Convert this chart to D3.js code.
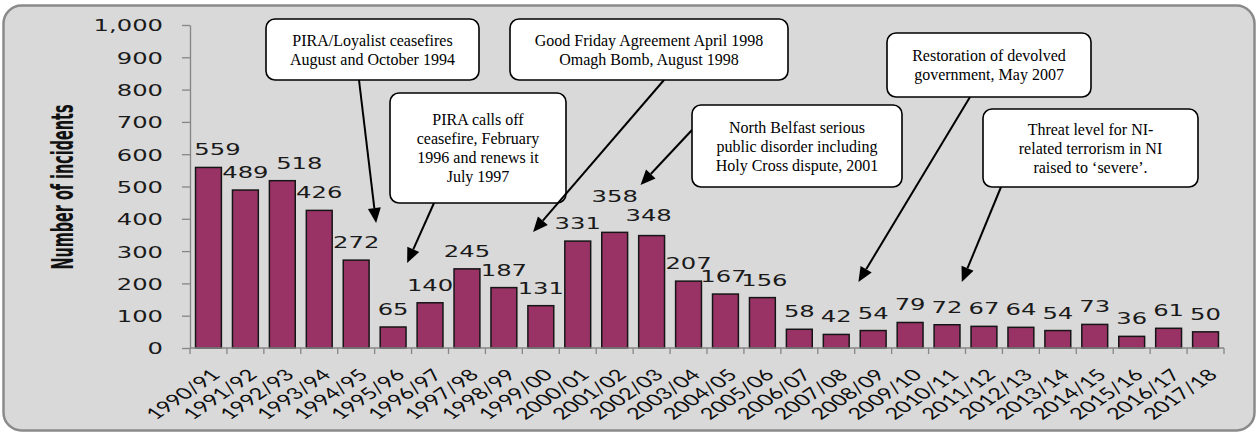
<!DOCTYPE html>
<html>
<head>
<meta charset="utf-8">
<script src="https://cdn.jsdelivr.net/npm/d3@7"></script>
<style>
  body { margin: 0; background: #fff; }
  svg { display: block; }
</style>
</head>
<body>
<svg id="chart"></svg>
<script>
// values
const categories = ["1990/91", "1991/92", "1992/93", "1993/94", "1994/95", "1995/96", "1996/97",
  "1997/98", "1998/99", "1999/00", "2000/01", "2001/02", "2002/03", "2003/04", "2004/05",
  "2005/06", "2006/07", "2007/08", "2008/09", "2009/10", "2010/11", "2011/12", "2012/13",
  "2013/14", "2014/15", "2015/16", "2016/17", "2017/18"];
const incidents = [559, 489, 518, 426, 272, 65, 140, 245, 187, 131, 331, 358, 348, 207, 167,
  156, 58, 42, 54, 79, 72, 67, 64, 54, 73, 36, 61, 50];
const yTicks = [0, 100, 200, 300, 400, 500, 600, 700, 800, 900, 1000];
const yTitle = "Number of incidents";

// callout texts, and where each arrow points (category units from axis start, value)
const noteTexts = [
  ["PIRA/Loyalist ceasefires", "August and October 1994"],
  ["PIRA calls off", "ceasefire, February", "1996 and renews it", "July 1997"],
  ["Good Friday Agreement April 1998", "Omagh Bomb, August 1998"],
  ["North Belfast serious", "public disorder including", "Holy Cross dispute, 2001"],
  ["Restoration of devolved", "government, May 2007"],
  ["Threat level for NI-", "related terrorism in NI", "raised to \u2018severe\u2019."]
];
const noteTargets = [[5.04, 387], [5.88, 263], [9.29, 359], [12.2, 505], [18.1, 204], [20.9, 204]];

const width = 1259, height = 433;
const stretch = 1.47; // the source image is stretched sideways

const svg = d3.select("#chart").attr("width", width).attr("height", height);

// panel
svg.append("rect")
  .attr("x", 3.5).attr("y", 5.5)
  .attr("width", 1251).attr("height", 425)
  .attr("rx", 18).attr("ry", 18)
  .attr("fill", "#d9d9d9")
  .attr("stroke", "#8a8a8a")
  .attr("stroke-width", 2.5);

const x = d3.scaleBand()
  .domain(categories)
  .range([190, 1224])
  .paddingInner(0.3)
  .paddingOuter(0.15);
const y = d3.scaleLinear().domain([0, 1000]).range([348, 25]);
const step = x.step();
const xAt = u => 190 + u * step;

// y axis
const yAxis = d3.axisLeft(y)
  .tickValues(yTicks)
  .tickFormat(d3.format(","))
  .tickSize(8)
  .tickSizeOuter(0);
const gy = svg.append("g").attr("transform", "translate(190,0)").call(yAxis);
gy.select(".domain").attr("stroke", "#868686").attr("stroke-width", 1.3);
gy.selectAll(".tick line").attr("stroke", "#868686").attr("stroke-width", 1.3);
gy.selectAll(".tick text")
  .attr("x", -27 / stretch)
  .attr("dy", "0.36em")
  .attr("transform", `scale(${stretch},1)`)
  .attr("font-family", "'DejaVu Sans', Verdana, sans-serif")
  .attr("font-size", 16.5)
  .attr("fill", "#1a1a1a");

// y title
svg.append("text")
  .attr("transform", `translate(73,187) scale(${stretch},1) rotate(-90)`)
  .attr("text-anchor", "middle")
  .attr("font-family", "'Liberation Sans Narrow', 'Arial Narrow', 'DejaVu Sans Condensed', sans-serif")
  .attr("font-weight", "bold")
  .attr("font-size", 21)
  .attr("textLength", 165)
  .attr("lengthAdjust", "spacingAndGlyphs")
  .attr("fill", "#111")
  .text(yTitle);

// bars
svg.selectAll(".bar")
  .data(incidents)
  .join("rect")
  .attr("class", "bar")
  .attr("x", (d, i) => x(categories[i]))
  .attr("y", d => y(d))
  .attr("width", x.bandwidth())
  .attr("height", d => y(0) - y(d))
  .attr("fill", "#993366")
  .attr("stroke", "#151515")
  .attr("stroke-width", 1.5);

// x axis line and boundary ticks
svg.append("line")
  .attr("x1", 190).attr("x2", 1224)
  .attr("y1", y(0)).attr("y2", y(0))
  .attr("stroke", "#868686").attr("stroke-width", 1.5);
svg.selectAll(".xtick")
  .data(d3.range(categories.length + 1))
  .join("line")
  .attr("class", "xtick")
  .attr("x1", i => xAt(i)).attr("x2", i => xAt(i))
  .attr("y1", y(0)).attr("y2", y(0) + 6)
  .attr("stroke", "#868686").attr("stroke-width", 1.3);

// x labels
svg.selectAll(".xlab")
  .data(categories)
  .join("text")
  .attr("class", "xlab")
  .attr("transform", d => `translate(${x(d) + x.bandwidth() / 2 + 13},${y(0) + 28}) scale(${stretch},1) rotate(-45)`)
  .attr("text-anchor", "end")
  .attr("font-family", "Lato, 'Open Sans', sans-serif")
  .attr("font-size", 16)
  .attr("fill", "#0d0d0d")
  .text(d => d);

// value labels (a few were moved by hand in the original)
const nudge = { 0: [9, 0], 2: [17, 0], 11: [0, -18], 12: [-3, -3], 14: [-2, 0], 15: [2, 0] };
svg.selectAll(".val")
  .data(incidents)
  .join("text")
  .attr("class", "val")
  .attr("transform", (d, i) => {
    const n = nudge[i] || [0, 0];
    return `translate(${x(categories[i]) + x.bandwidth() / 2 + n[0]},${y(d) - 12 + n[1]}) scale(${stretch},1)`;
  })
  .attr("text-anchor", "middle")
  .attr("font-family", "'DejaVu Sans', Verdana, sans-serif")
  .attr("font-size", 16.5)
  .attr("fill", "#1a1a1a")
  .text(d => d);

// callouts: box [x, y, w, h], line start on box edge
const boxes = [
  { box: [266, 19, 213, 61], from: [359, 80] },
  { box: [390, 93, 176, 110], from: [434, 203] },
  { box: [510, 19, 278, 61], from: [664, 80] },
  { box: [692, 105, 210, 82], from: [692, 130] },
  { box: [887, 33, 204, 64], from: [970, 97] },
  { box: [983, 109, 215, 78], from: [1001, 187] }
];
const lineH = 19;

const notes = svg.append("g");
boxes.forEach((b, i) => {
  const [bx, by, bw, bh] = b.box;
  const tx = xAt(noteTargets[i][0]), ty = y(noteTargets[i][1]);
  const [fx, fy] = b.from;
  const ang = Math.atan2(ty - fy, tx - fx);
  const headLen = 15, headW = 6.5;
  const baseX = tx - headLen * Math.cos(ang), baseY = ty - headLen * Math.sin(ang);

  notes.append("line")
    .attr("x1", fx).attr("y1", fy)
    .attr("x2", baseX).attr("y2", baseY)
    .attr("stroke", "#000").attr("stroke-width", 2);
  notes.append("path")
    .attr("d", d3.line()([
      [tx, ty],
      [baseX + headW * Math.sin(ang), baseY - headW * Math.cos(ang)],
      [baseX - headW * Math.sin(ang), baseY + headW * Math.cos(ang)]
    ]) + "Z")
    .attr("fill", "#000");

  notes.append("rect")
    .attr("x", bx).attr("y", by)
    .attr("width", bw).attr("height", bh)
    .attr("rx", 9).attr("ry", 9)
    .attr("fill", "#fff")
    .attr("stroke", "#000")
    .attr("stroke-width", 1.6);

  const lines = noteTexts[i];
  const first = by + bh / 2 - (lines.length - 1) * lineH / 2 + 5.5;
  notes.append("text")
    .attr("text-anchor", "middle")
    .attr("font-family", "'Liberation Serif', 'Times New Roman', serif")
    .attr("font-size", 16)
    .attr("fill", "#000")
    .selectAll("tspan")
    .data(lines)
    .join("tspan")
    .attr("x", bx + bw / 2)
    .attr("y", (d, k) => first + k * lineH)
    .text(d => d);
});
</script>
</body>
</html>
